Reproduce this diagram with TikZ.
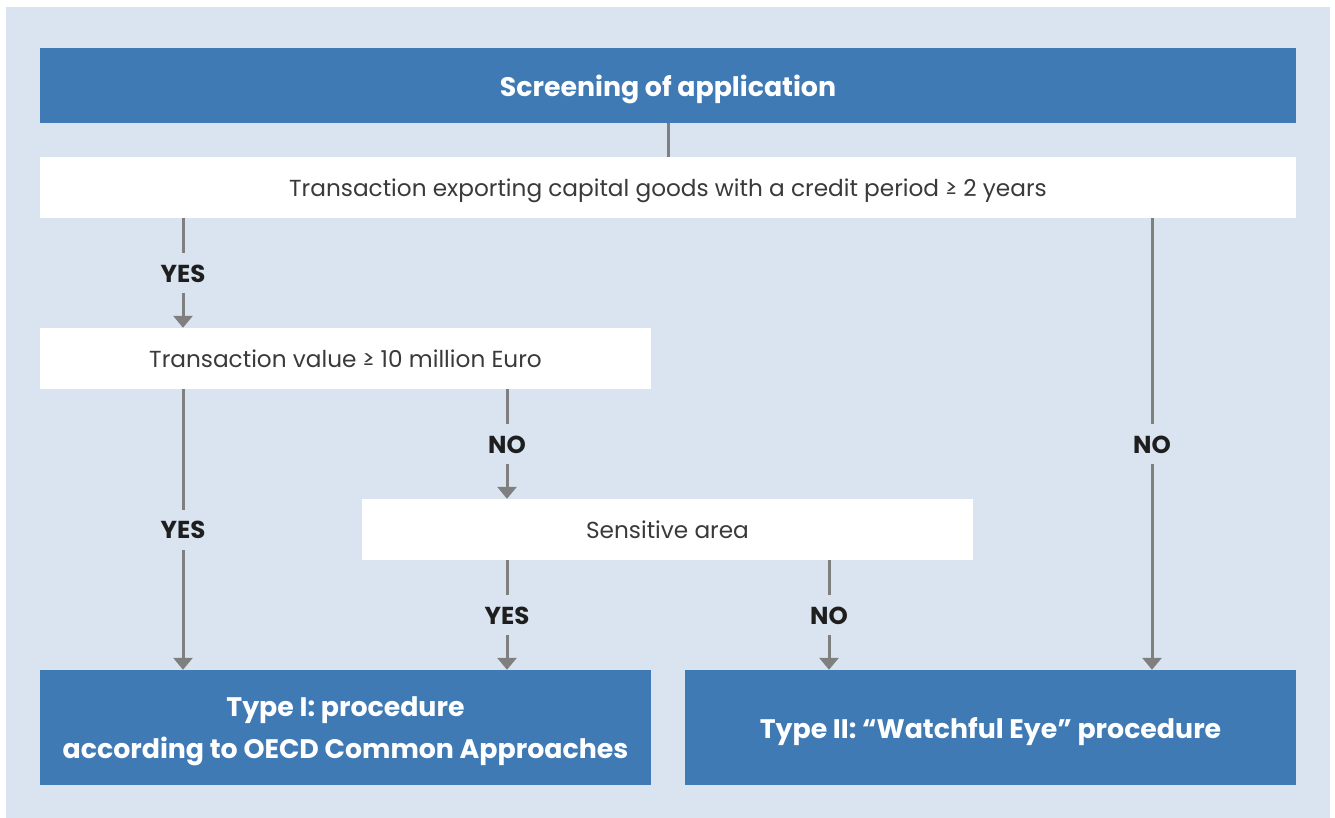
\documentclass[tikz,border=0pt]{standalone}
\usepackage{fontspec}
\setmainfont{Poppins}
\usetikzlibrary{arrows.meta}
\definecolor{bgblue}{HTML}{D9E4F0}
\definecolor{boxblue}{HTML}{3F7AB5}
\definecolor{linegray}{HTML}{7F7F7F}
\definecolor{txtgray}{HTML}{3A3A3A}
\definecolor{lbl}{HTML}{1E1E1E}
\tikzset{
  bluebox/.style={fill=boxblue, draw=none, inner sep=0pt},
  bluetext/.style={text=white, inner sep=0pt, align=center, yshift=-4pt,
    font=\fontsize{26.8}{42}\selectfont\bfseries},
  whitebox/.style={fill=white, draw=none, inner sep=0pt, minimum height=61pt},
  whitetext/.style={text=txtgray, inner sep=0pt, align=center, yshift=-3pt,
    text height=17.5pt, text depth=5.8pt, font=\fontsize{23.2}{28}\selectfont},
  conn/.style={draw=linegray, line width=3pt},
  arr/.style={conn, -{Triangle[width=19pt,length=12pt]}},
  lab/.style={fill=bgblue, text=lbl, inner xsep=4pt, inner ysep=11pt,
    text height=18pt, text depth=0pt, font=\fontsize{24.5}{28}\selectfont\bfseries}
}
\begin{document}
\begin{tikzpicture}[x=1pt,y=-1pt]
\useasboundingbox (0,0) rectangle (1335,818);
\fill[white] (0,0) rectangle (1335,818);
\fill[bgblue] (6,7) rectangle (1330,818);

\node[bluebox, minimum width=1256pt, minimum height=75pt,
  label={[bluetext]center:Screening of application}] (screen) at (668,85.5) {};
\node[whitebox, minimum width=1256pt,
  label={[whitetext]center:Transaction exporting capital goods with a credit period ≥ 2 years}] (credit) at (668,187.5) {};
\node[whitebox, minimum width=611pt,
  label={[whitetext]center:Transaction value ≥ 10 million Euro}] (value) at (345.5,358.5) {};
\node[whitebox, minimum width=611pt,
  label={[whitetext]center:Sensitive area}] (sens) at (667.5,529.5) {};
\node[bluebox, minimum width=611pt, minimum height=115pt,
  label={[bluetext]center:Type I: procedure\\according to OECD Common Approaches}] (type1) at (345.5,727.5) {};
\node[bluebox, minimum width=611pt, minimum height=115pt,
  label={[bluetext]center:Type II: “Watchful Eye” procedure}] (type2) at (990.5,727.5) {};

\coordinate (xa) at (183,0);
\coordinate (xb) at (507,0);
\coordinate (xc) at (829,0);
\coordinate (xd) at (1152,0);

\draw[conn] (screen.south) -- (credit.north);
\draw[arr] (xa |- credit.south) -- (xa |- value.north) node[lab, pos=0.5] {YES};
\draw[arr] (xa |- value.south) -- (xa |- type1.north) node[lab, pos=0.5] {YES};
\draw[arr] (xb |- value.south) -- (xb |- sens.north) node[lab, pos=0.5] {NO};
\draw[arr] (xb |- sens.south) -- (xb |- type1.north) node[lab, pos=0.5] {YES};
\draw[arr] (xc |- sens.south) -- (xc |- type2.north) node[lab, pos=0.5] {NO};
\draw[arr] (xd |- credit.south) -- (xd |- type2.north) node[lab, pos=0.5] {NO};
\end{tikzpicture}
\end{document}
